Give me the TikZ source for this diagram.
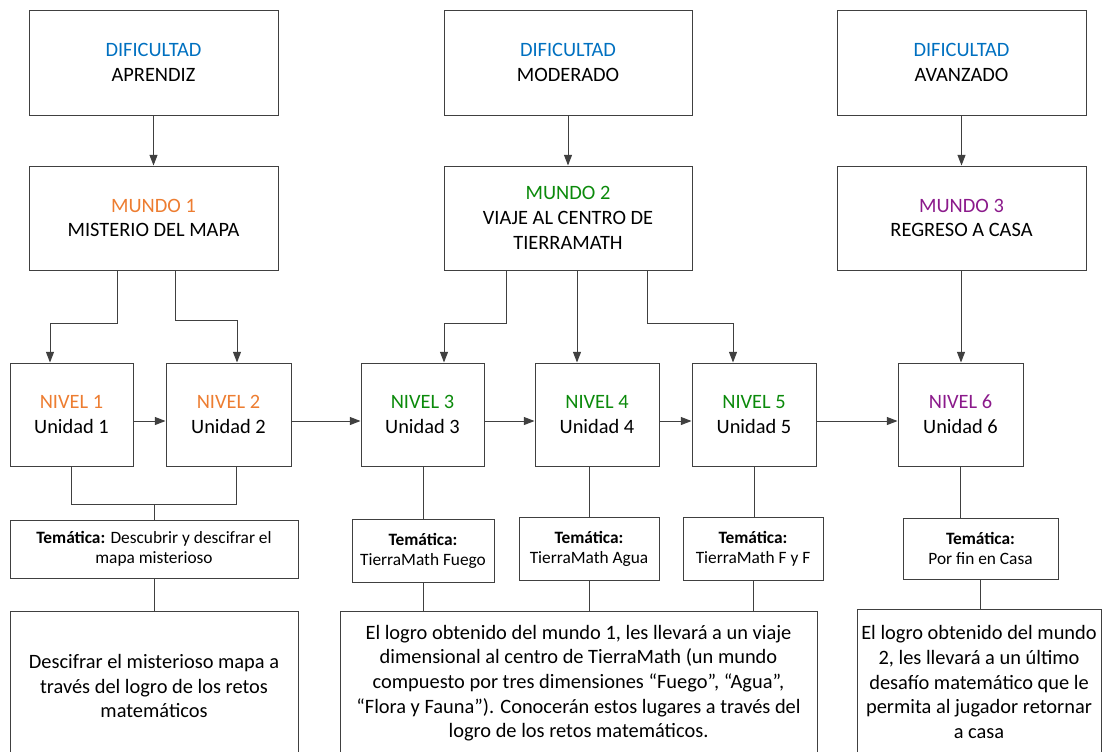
\documentclass[tikz,border=0pt]{standalone}
\usepackage{fontspec}
\setmainfont{Carlito}
\usetikzlibrary{arrows.meta, positioning}

\definecolor{gris}{HTML}{404040}
\definecolor{azul}{HTML}{0070C0}
\definecolor{naranja}{HTML}{ED7D31}
\definecolor{verde}{HTML}{0B8A0B}
\definecolor{morado}{HTML}{8B1A8B}

\tikzset{
  caja/.style={draw=gris, line width=0.75pt, inner sep=0pt, align=center,
    font=\fontsize{15.3}{18.5}\selectfont},
  tema/.style={caja, font=\fontsize{13}{15}\selectfont},
  tam/.style 2 args={minimum width=#1*0.75pt, minimum height=#2*0.75pt},
  flecha/.style={draw=gris, line width=0.75pt, -{Triangle[length=8pt,width=6pt]}},
  linea/.style={draw=gris, line width=0.75pt},
}

\begin{document}
\begin{tikzpicture}[x=0.75pt, y=-0.75pt]

    \useasboundingbox (0,0) rectangle (1102,751);
    \clip (0,0) rectangle (1102,751);

    % dificultad
    \node[caja, tam={249}{105}] (dif1) at (153.5,62.5) {\textcolor{azul}{DIFICULTAD}\\APRENDIZ};
    \node[caja, tam={248}{105}] (dif2) at (568,62.5) {\textcolor{azul}{DIFICULTAD}\\MODERADO};
    \node[caja, tam={249}{105}] (dif3) at (961.5,62.5) {\textcolor{azul}{DIFICULTAD}\\AVANZADO};

    % mundos
    \node[caja, tam={249}{104}] (mundo1) at (153.5,218) {\textcolor{naranja}{MUNDO 1}\\MISTERIO DEL MAPA};
    \node[caja, tam={248}{104}] (mundo2) at (568,218) {\textcolor{verde}{MUNDO 2}\\VIAJE AL CENTRO DE\\TIERRAMATH};
    \node[caja, tam={249}{104}] (mundo3) at (961.5,218) {\textcolor{morado}{MUNDO 3}\\REGRESO A CASA};

    % niveles
    \node[caja, tam={123}{103}] (niv1) at (71.5,414.5) {\textcolor{naranja}{NIVEL 1}\\Unidad 1};
    \node[caja, tam={125}{103}] (niv2) at (228.5,414.5) {\textcolor{naranja}{NIVEL 2}\\Unidad 2};
    \node[caja, tam={123}{103}] (niv3) at (422.5,414.5) {\textcolor{verde}{NIVEL 3}\\Unidad 3};
    \node[caja, tam={124}{103}] (niv4) at (597,414.5) {\textcolor{verde}{NIVEL 4}\\Unidad 4};
    \node[caja, tam={124}{103}] (niv5) at (754,414.5) {\textcolor{verde}{NIVEL 5}\\Unidad 5};
    \node[caja, tam={125}{103}] (niv6) at (960.5,414.5) {\textcolor{morado}{NIVEL 6}\\Unidad 6};

    % tematicas
    \node[tema, tam={288}{58}] (tema1) at (154,549) {\textbf{Temática:} Descubrir y descifrar el\\mapa misterioso};
    \node[tema, tam={142}{63}] (tema3) at (423,550.5) {\textbf{Temática:}\\TierraMath Fuego};
    \node[tema, tam={140}{63}] (tema4) at (589,548.5) {\textbf{Temática:}\\TierraMath Agua};
    \node[tema, tam={140}{63}] (tema5) at (753,548.5) {\textbf{Temática:}\\TierraMath F y F};
    \node[tema, tam={155}{61}] (tema6) at (980.5,548.5) {\textbf{Temática:}\\Por fin en Casa};

    % logros
    \node[caja, tam={288}{150}] (logro1) at (154,686) {Descifrar el misterioso mapa a\\través del logro de los retos\\matemáticos};
    \node[caja, tam={477}{144}] (logro2) at (578.5,683) {El logro obtenido del mundo 1, les llevará a un viaje\\dimensional al centro de TierraMath (un mundo\\compuesto por tres dimensiones “Fuego”, “Agua”,\\“Flora y Fauna”). Conocerán estos lugares a través del\\logro de los retos matemáticos.};
    \node[caja, tam={244}{146}] (logro3) at (979,682) {El logro obtenido del mundo\\2, les llevará a un último\\desafío matemático que le\\permita al jugador retornar\\a casa};

    % flechas verticales
    \draw[flecha] (dif1) -- (mundo1);
    \draw[flecha] (dif2) -- (mundo2);
    \draw[flecha] (dif3) -- (mundo3);

    \draw[flecha] (mundo1.south -| 117,0) -- (117,323) -| (niv1.north -| 50,0);
    \draw[flecha] (mundo1.south -| 175,0) -- (175,320) -| (niv2.north -| 237,0);
    \draw[flecha] (mundo2.south -| 506,0) -- (506,323) -| (niv3.north -| 444,0);
    \draw[flecha] (mundo2.south -| 577,0) -- (niv4.north -| 577,0);
    \draw[flecha] (mundo2.south -| 647,0) -- (647,323) -| (niv5.north -| 733,0);
    \draw[flecha] (mundo3.south -| 961,0) -- (niv6.north -| 961,0);

    % flechas horizontales
    \draw[flecha] (niv1.east |- 0,421) -- (niv2.west |- 0,421);
    \draw[flecha] (niv2.east |- 0,421) -- (niv3.west |- 0,421);
    \draw[flecha] (niv3.east |- 0,421) -- (niv4.west |- 0,421);
    \draw[flecha] (niv4.east |- 0,421) -- (niv5.west |- 0,421);
    \draw[flecha] (niv5.east |- 0,421) -- (niv6.west |- 0,421);

    % lineas
    \draw[linea] (niv1.south) -- (71.5,504) -| (niv2.south -| 236,0);
    \draw[linea] (tema1.north |- 0,504) -- (tema1.north);
    \draw[linea] (tema1) -- (logro1);
    \draw[linea] (niv3.south -| tema3.north) -- (tema3.north);
    \draw[linea] (niv4.south -| tema4.north) -- (tema4.north);
    \draw[linea] (niv5.south) -- (tema5.north -| niv5.south);
    \draw[linea] (niv6.south) -- (tema6.north -| niv6.south);
    \draw[linea] (tema3.south) -- (logro2.north -| tema3.south);
    \draw[linea] (tema4.south) -- (logro2.north -| tema4.south);
    \draw[linea] (tema5.south) -- (logro2.north -| tema5.south);
    \draw[linea] (tema6.south) -- (logro3.north -| tema6.south);

\end{tikzpicture}
\end{document}
